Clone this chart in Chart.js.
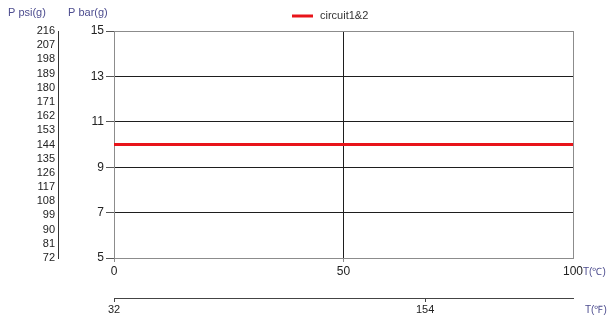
<!DOCTYPE html>
<html>
<head>
<meta charset="utf-8">
<script src="https://cdn.jsdelivr.net/npm/chart.js@4"></script>
<style>
  html, body { margin: 0; padding: 0; background: #fff; }
  #wrap { width: 607px; height: 320px; }
</style>
</head>
<body>
<div id="wrap"><canvas id="chart" width="607" height="320"></canvas></div>
<script>
// ── Data ──
const seriesName = 'circuit1&2';
const tempC = [0, 100];
const pressureBar = [10, 10];
const barRange = [5, 15];
const psiRange = [72, 216];
const celsiusRange = [0, 100];
const fahrenheitRange = [32, 212];
const fahrenheitTicks = [32, 154];

const FONT = "'Liberation Sans', Arial, sans-serif";
const FRAME = '#8c8c8c';
const GRID = '#1e1e1e';
const TITLE = '#4d4d8f';

// ── Extra text: axis titles + legend ──
const decorations = {
    id: 'decorations',
    afterDraw(chart) {
        const ctx = chart.ctx;
        const {y, y2, x, x2} = chart.scales;
        ctx.save();
        ctx.font = '11px ' + FONT;
        ctx.fillStyle = TITLE;
        ctx.textBaseline = 'middle';
        ctx.textAlign = 'left';
        ctx.fillText('P psi(g)', y2.left + 8, 13);
        ctx.fillText('P bar(g)', y.left + 10, 13);
        ctx.font = '10px ' + FONT;
        ctx.fillText('T(\u2103)', x.right + 10, x.top + 14);
        ctx.fillText('T(\u2109)', x2.right + 12, x2.top + 12);

        // legend
        const ds = chart.data.datasets[0];
        const lx = 292, ly = 16;
        ctx.strokeStyle = ds.borderColor;
        ctx.lineWidth = 3;
        ctx.beginPath();
        ctx.moveTo(lx, ly);
        ctx.lineTo(lx + 21, ly);
        ctx.stroke();
        ctx.font = '11px ' + FONT;
        ctx.fillStyle = '#333';
        ctx.fillText(ds.label, lx + 28, ly);
        ctx.restore();
    }
};

const frameColor = (lo, hi) => (c) => {
    const v = c.tick ? c.tick.value : null;
    return (v === lo || v === hi) ? FRAME : GRID;
};

new Chart(document.getElementById('chart').getContext('2d'), {
    type: 'line',
    data: {
        datasets: [{
            label: seriesName,
            data: tempC.map((t, i) => ({ x: t, y: pressureBar[i] })),
            borderColor: '#e8141a',
            borderWidth: 3,
            pointRadius: 0,
            fill: false,
            xAxisID: 'x',
            yAxisID: 'y'
        }]
    },
    options: {
        responsive: false,
        animation: false,
        layout: { padding: { left: 0, right: 34, top: 31, bottom: 0 } },
        plugins: { legend: { display: false }, tooltip: { enabled: false } },
        scales: {
            x: {
                type: 'linear', position: 'bottom', weight: 0,
                min: celsiusRange[0], max: celsiusRange[1],
                ticks: { stepSize: 50, color: '#222', font: { family: FONT, size: 12 }, padding: 2, maxRotation: 0 },
                grid: {
                    color: frameColor(celsiusRange[0], celsiusRange[1]),
                    tickColor: (c) => (c.tick && c.tick.value === celsiusRange[1]) ? 'rgba(0,0,0,0)' : FRAME,
                    tickLength: 4, lineWidth: 1
                },
                border: { display: true, color: FRAME },
                afterFit(s) { s.height = 40; }
            },
            x2: {
                type: 'linear', position: 'bottom', weight: 1,
                min: fahrenheitRange[0], max: fahrenheitRange[1],
                afterBuildTicks(s) { s.ticks = fahrenheitTicks.map(v => ({ value: v })); },
                ticks: { color: '#222', font: { family: FONT, size: 11 }, padding: 1, maxRotation: 0, autoSkip: false },
                grid: { drawOnChartArea: false, color: '#444', tickLength: 4 },
                border: { display: true, color: '#444' },
                afterFit(s) { s.height = 22; }
            },
            y: {
                type: 'linear', position: 'left', weight: 0,
                min: barRange[0], max: barRange[1],
                ticks: { stepSize: 2, color: '#222', font: { family: FONT, size: 12 }, padding: 2 },
                grid: { color: frameColor(barRange[0], barRange[1]), tickColor: '#555', tickLength: 8 },
                border: { display: true, color: FRAME },
                afterFit(s) { s.width = 56; }
            },
            y2: {
                type: 'linear', position: 'left', weight: 1,
                min: psiRange[0], max: psiRange[1],
                ticks: { stepSize: 9, autoSkip: false, color: '#222', font: { family: FONT, size: 11 }, padding: 3 },
                grid: { drawOnChartArea: false, drawTicks: false },
                border: { display: true, color: '#333' },
                afterFit(s) { s.width = 58; }
            }
        }
    },
    plugins: [decorations]
});
</script>
</body>
</html>
